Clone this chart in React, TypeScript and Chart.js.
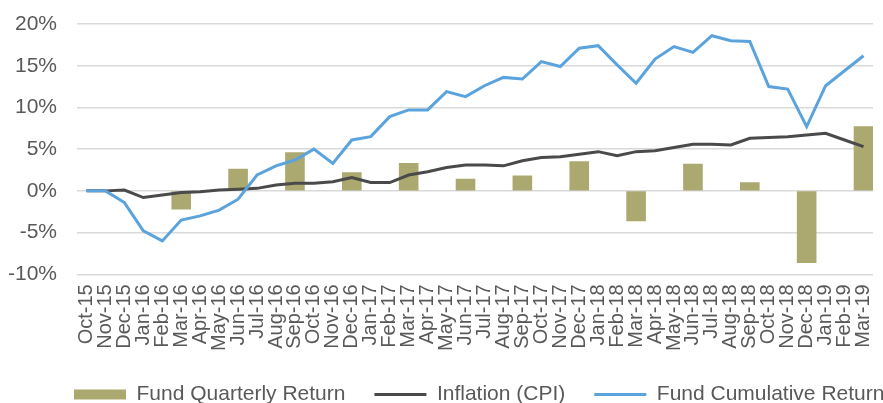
import React, { useEffect, useRef } from "react";
import { Chart, registerables } from "chart.js";

Chart.register(...registerables);

const months = [
  "Oct-15", "Nov-15", "Dec-15", "Jan-16", "Feb-16", "Mar-16", "Apr-16", "May-16", "Jun-16",
  "Jul-16", "Aug-16", "Sep-16", "Oct-16", "Nov-16", "Dec-16", "Jan-17", "Feb-17", "Mar-17",
  "Apr-17", "May-17", "Jun-17", "Jul-17", "Aug-17", "Sep-17", "Oct-17", "Nov-17", "Dec-17",
  "Jan-18", "Feb-18", "Mar-18", "Apr-18", "May-18", "Jun-18", "Jul-18", "Aug-18", "Sep-18",
  "Oct-18", "Nov-18", "Dec-18", "Jan-19", "Feb-19", "Mar-19",
];

const quarterlyReturn: (number | null)[] = [
  null, null, null, null, null, -2.2, null, null, 2.6, null, null, 4.6, null, null, 2.2,
  null, null, 3.3, null, null, 1.4, null, null, 1.8, null, null, 3.5, null, null, -3.6,
  null, null, 3.2, null, null, 1.0, null, null, -8.6, null, null, 7.7,
];

const inflation = [
  0, 0, 0.1, -0.8, -0.5, -0.2, -0.1, 0.1, 0.2, 0.3, 0.7, 0.9, 0.9, 1.1, 1.6, 1.0, 1.0, 1.9,
  2.3, 2.8, 3.1, 3.1, 3.0, 3.6, 4.0, 4.1, 4.4, 4.7, 4.2, 4.7, 4.8, 5.2, 5.6, 5.6, 5.5, 6.3,
  6.4, 6.5, 6.7, 6.9, 6.1, 5.3,
];

const cumulativeReturn = [
  0, 0, -1.4, -4.8, -6.0, -3.5, -3.0, -2.3, -1.0, 1.9, 3.0, 3.7, 5.0, 3.3, 6.1, 6.5, 8.9, 9.7,
  9.7, 11.9, 11.3, 12.6, 13.6, 13.4, 15.5, 14.9, 17.1, 17.4, 15.1, 12.9, 15.8, 17.3, 16.6, 18.6,
  18.0, 17.9, 12.5, 12.2, 7.7, 12.6, 14.4, 16.2,
];

const seriesNames = ["Fund Quarterly Return", "Inflation (CPI)", "Fund Cumulative Return"];
const yTicks = [-10, -5, 0, 5, 10, 15, 20];

const OLIVE = "#ABA96F";
const GRAY = "#4A4A4A";
const BLUE = "#5BA3DC";
const TEXT = "#595959";
const FONT = "'Liberation Sans', Arial, sans-serif";

const legendAdjust = {
  id: "legendAdjust",
  beforeLayout(chart: any) {
    const lg = chart.legend;
    if (lg && !lg.__patched) {
      const orig = lg.fit.bind(lg);
      lg.fit = function () {
        orig();
        this.height -= 18;
      };
      lg.__patched = true;
    }
  },
  afterLayout(chart: any) {
    const lg = chart.legend;
    if (lg) {
      lg.left += 45;
      lg.right += 45;
      lg.top -= 6;
      lg.bottom = chart.height;
    }
  },
};

export default function App() {
  const ref = useRef<HTMLCanvasElement | null>(null);

  useEffect(() => {
    if (!ref.current) return;
    const chart = new Chart(ref.current, {
      type: "bar",
      data: {
        labels: months,
        datasets: [
          {
            type: "bar",
            label: seriesNames[0],
            data: quarterlyReturn,
            backgroundColor: OLIVE,
            barPercentage: 1,
            categoryPercentage: 1,
            order: 3,
          },
          {
            type: "line",
            label: seriesNames[1],
            data: inflation,
            borderColor: GRAY,
            backgroundColor: GRAY,
            borderWidth: 3,
            pointRadius: 0,
            tension: 0,
            order: 2,
          },
          {
            type: "line",
            label: seriesNames[2],
            data: cumulativeReturn,
            borderColor: BLUE,
            backgroundColor: BLUE,
            borderWidth: 3,
            pointRadius: 0,
            tension: 0,
            order: 1,
          },
        ] as any,
      },
      options: {
        animation: false,
        responsive: false,
        maintainAspectRatio: false,
        layout: { padding: { left: 0, right: 10, top: 24, bottom: 0 } },
        scales: {
          x: {
            grid: { display: false, drawTicks: false },
            border: { display: false },
            afterFit: (axis: any) => {
              axis.paddingLeft = 0;
              axis.paddingRight = 0;
            },
            ticks: {
              autoSkip: false,
              minRotation: 90,
              maxRotation: 90,
              padding: 10,
              color: TEXT,
              font: { family: FONT, size: 20 },
            },
          },
          y: {
            min: -10,
            max: 20,
            afterBuildTicks: (axis: any) => {
              axis.ticks = yTicks.map((v) => ({ value: v }));
            },
            afterFit: (axis: any) => {
              axis.width = 77;
              axis.paddingTop = 0;
              axis.paddingBottom = 0;
            },
            grid: { color: "#D9D9D9", lineWidth: 1.5, drawTicks: false },
            border: { display: false },
            ticks: {
              padding: 20,
              color: TEXT,
              font: { family: FONT, size: 21 },
              callback: (v: any) => `${v}%`,
            },
          },
        },
        plugins: {
          tooltip: { enabled: false },
          legend: {
            position: "bottom",
            align: "start",
            labels: {
              color: TEXT,
              font: { family: FONT, size: 21 },
              usePointStyle: true,
              pointStyleWidth: 52,
              boxHeight: 10,
              padding: 29,
              generateLabels: (c: any) =>
                c.data.datasets.map((ds: any, i: number) => ({
                  text: ds.label,
                  fillStyle: i === 0 ? OLIVE : ds.borderColor,
                  strokeStyle: i === 0 ? OLIVE : ds.borderColor,
                  lineWidth: i === 0 ? 0 : 3,
                  pointStyle: i === 0 ? "rect" : "line",
                  fontColor: TEXT,
                  hidden: false,
                  datasetIndex: i,
                })),
            },
          },
        },
      },
      plugins: [legendAdjust],
    });
    return () => chart.destroy();
  }, []);

  return (
    <div style={{ position: "fixed", left: 0, top: 0, width: 883, height: 403, background: "#fff" }}>
      <canvas ref={ref} width={883} height={403} style={{ width: 883, height: 403 }} />
    </div>
  );
}
